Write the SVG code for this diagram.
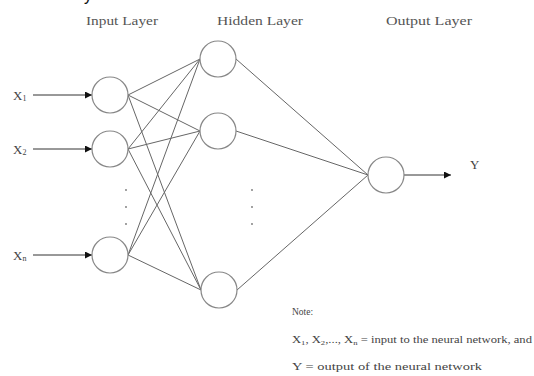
<svg xmlns="http://www.w3.org/2000/svg" width="534" height="376" viewBox="0 0 534 376">
<defs>
<marker id="arr" viewBox="0 0 10 10" refX="10" refY="5" markerWidth="7" markerHeight="7" markerUnits="userSpaceOnUse" orient="auto">
<path d="M0,0 L10,5 L0,10 z" fill="#111"/>
</marker>
<style>
.node{fill:#fff;stroke:#888;stroke-width:1.2}
.edge{stroke:#666;stroke-width:1;fill:none}
.arrow{stroke:#333;stroke-width:1;fill:none;marker-end:url(#arr)}
.title{font-family:"Liberation Serif",serif;font-size:12px;fill:#555;text-anchor:middle}
.lbl{font-family:"Liberation Serif",serif;font-size:13px;fill:#444}
.sub{font-size:8px}
.note{font-family:"Liberation Serif",serif;font-size:9.5px;fill:#444}
.dot{fill:#777}
</style>
</defs>
<rect width="534" height="376" fill="#fff"/>
<text x="84" y="1" font-family="Liberation Sans, sans-serif" font-size="16" fill="#111">y</text>
<text class="title" x="122" y="25" textLength="72" lengthAdjust="spacingAndGlyphs">Input Layer</text>
<text class="title" x="260" y="25" textLength="86" lengthAdjust="spacingAndGlyphs">Hidden Layer</text>
<text class="title" x="429" y="25" textLength="86" lengthAdjust="spacingAndGlyphs">Output Layer</text>
<g id="connectors">
<line class="edge" x1="128" y1="95" x2="200" y2="59"/>
<line class="edge" x1="128" y1="95" x2="200" y2="131"/>
<line class="edge" x1="128" y1="95" x2="201" y2="290"/>
<line class="edge" x1="128" y1="149" x2="200" y2="59"/>
<line class="edge" x1="128" y1="149" x2="200" y2="131"/>
<line class="edge" x1="128" y1="149" x2="201" y2="290"/>
<line class="edge" x1="128" y1="255" x2="200" y2="59"/>
<line class="edge" x1="128" y1="255" x2="200" y2="131"/>
<line class="edge" x1="128" y1="255" x2="201" y2="290"/>
<line class="edge" x1="236" y1="59" x2="368" y2="175"/>
<line class="edge" x1="236" y1="131" x2="368" y2="175"/>
<line class="edge" x1="237" y1="290" x2="368" y2="175"/>
<line class="arrow" x1="33" y1="95" x2="92" y2="95"/>
<line class="arrow" x1="33" y1="149" x2="92" y2="149"/>
<line class="arrow" x1="33" y1="255" x2="92" y2="255"/>
<line class="arrow" x1="404" y1="175" x2="451" y2="175"/>
</g>
<g id="x1"><text class="lbl" x="13" y="100">X<tspan class="sub" dy="1">1</tspan></text></g>
<g id="x2"><text class="lbl" x="13" y="154">X<tspan class="sub" dy="1">2</tspan></text></g>
<g id="xn"><text class="lbl" x="13" y="260">X<tspan class="sub" dy="1">n</tspan></text></g>
<g id="in1"><circle class="node" cx="110" cy="95" r="18"/></g>
<g id="in2"><circle class="node" cx="110" cy="149" r="18"/></g>
<g id="inn"><circle class="node" cx="110" cy="255" r="18"/></g>
<g id="in-dots"><circle class="dot" cx="126" cy="190" r="0.9"/><circle class="dot" cx="126" cy="207" r="0.9"/><circle class="dot" cx="126" cy="224" r="0.9"/></g>
<g id="h1"><circle class="node" cx="218" cy="59" r="18"/></g>
<g id="h2"><circle class="node" cx="218" cy="131" r="18"/></g>
<g id="h3"><circle class="node" cx="219" cy="290" r="18"/></g>
<g id="h-dots"><circle class="dot" cx="252" cy="190" r="0.9"/><circle class="dot" cx="252" cy="207" r="0.9"/><circle class="dot" cx="252" cy="224" r="0.9"/></g>
<g id="out"><circle class="node" cx="386" cy="175" r="18"/></g>
<g id="y"><text class="lbl" x="470" y="169">Y</text></g>
<g id="note">
<text class="note" x="292" y="315">Note:</text>
<text class="note" x="292" y="343" textLength="240" lengthAdjust="spacingAndGlyphs">X<tspan font-size="6.5" dy="1.5">1</tspan><tspan dy="-1.5">, X</tspan><tspan font-size="6.5" dy="1.5">2</tspan><tspan dy="-1.5">,..., X</tspan><tspan font-size="6.5" dy="1.5">n</tspan><tspan dy="-1.5"> = input to the neural network, and</tspan></text>
<text class="note" x="292" y="370" textLength="190" lengthAdjust="spacingAndGlyphs">Y = output of the neural network</text>
</g>
</svg>
